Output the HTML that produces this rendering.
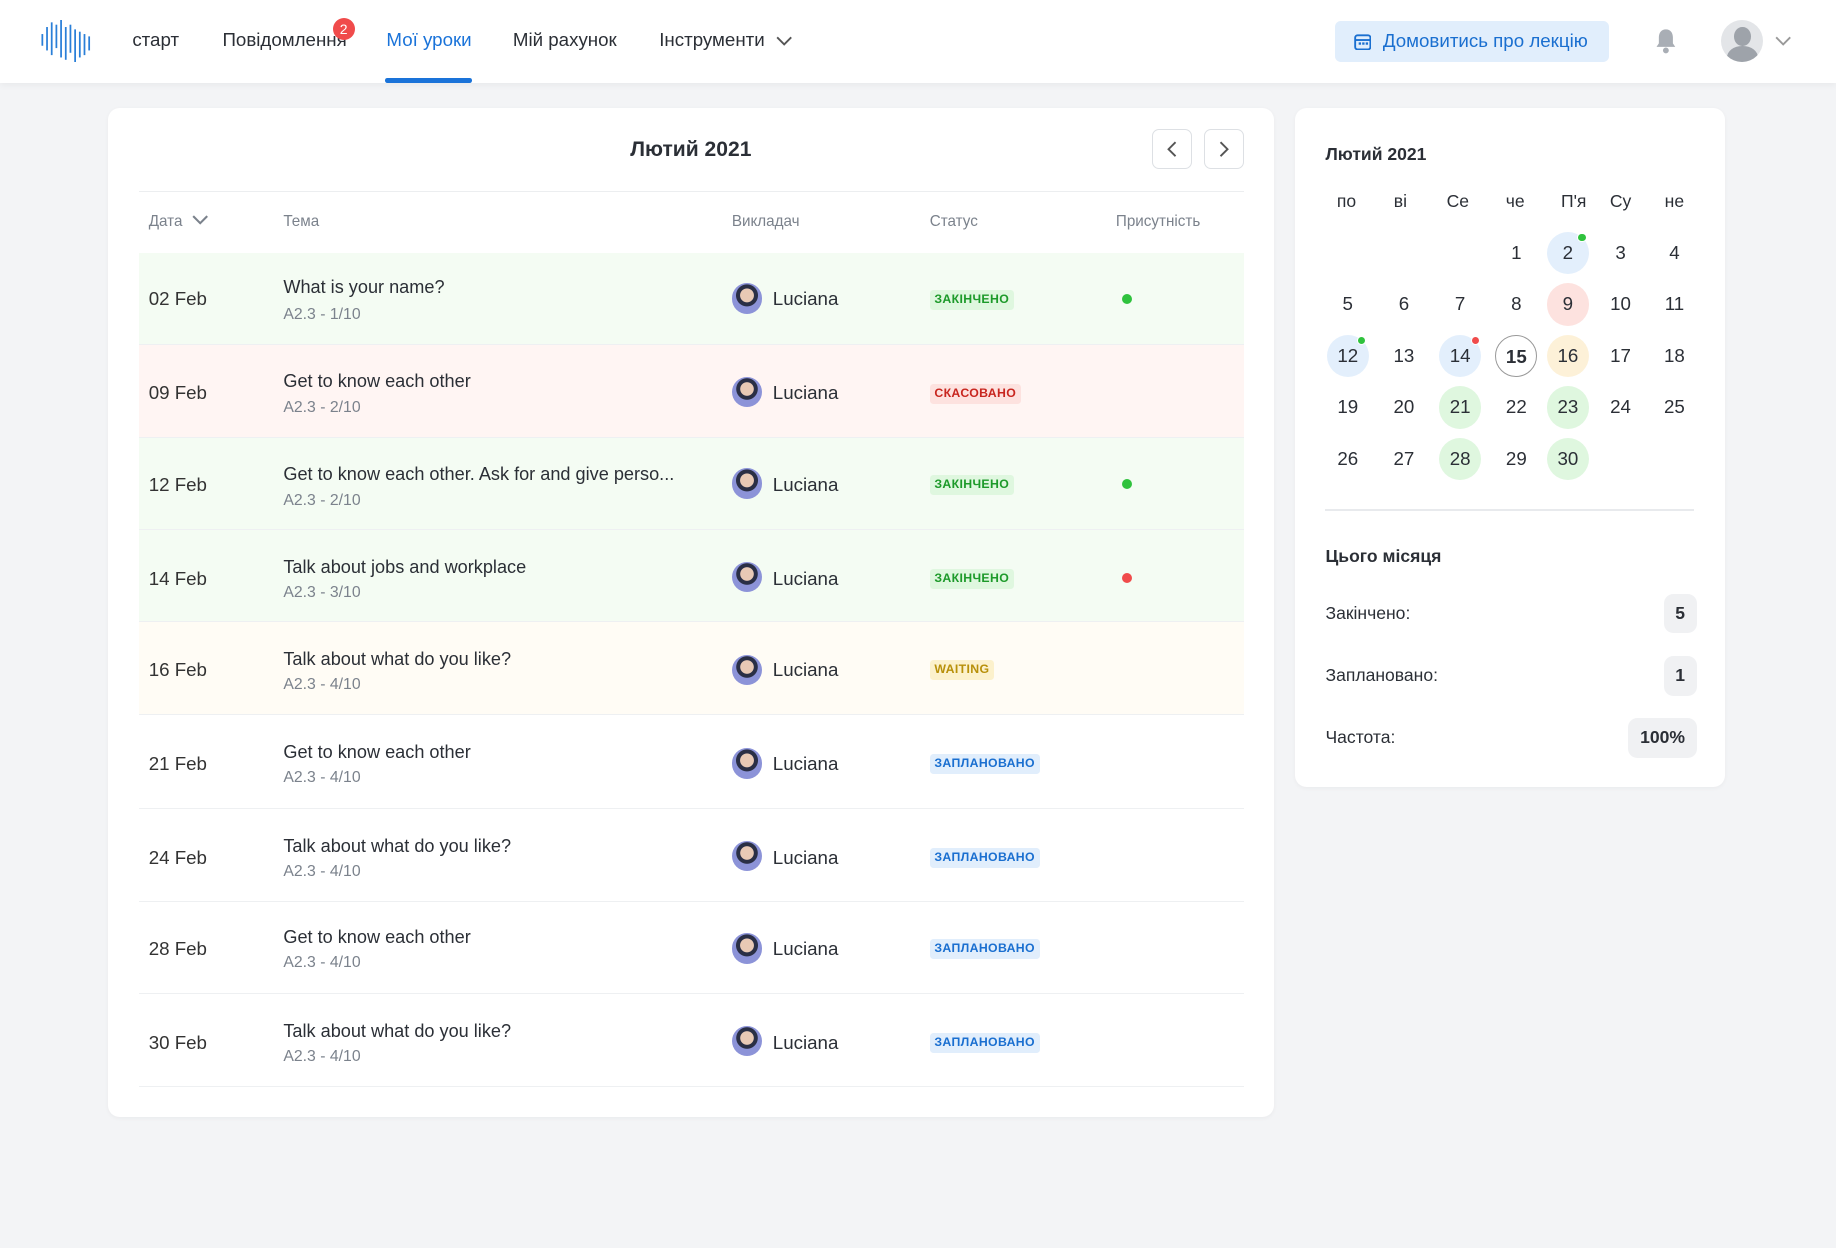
<!DOCTYPE html>
<html><head><meta charset="utf-8"><style>
*{box-sizing:border-box;margin:0;padding:0}
html,body{width:1836px;height:1248px;overflow:hidden;background:#f3f4f6}
body{font-family:"Liberation Sans",sans-serif;color:#2b2f36}
#w{zoom:1.17092;width:1568px;height:1066px;position:relative}
.a{position:absolute;white-space:nowrap}
.nav{position:absolute;left:0;top:0;width:1568px;height:71px;background:#fff;box-shadow:0 2px 6px rgba(0,0,0,.05)}
.ni{position:absolute;top:25px;font-size:16px;color:#2b2f36}
.card{position:absolute;background:#fff;border-radius:10px;box-shadow:0 1px 4px rgba(0,0,0,.04)}
.row{position:absolute;left:119px;width:943px;border-bottom:1px solid #eef0f2}
.hd{position:absolute;top:182px;font-size:13px;color:#7b828c}
.dt{position:absolute;left:8px;font-size:16px;color:#333}
.t1{position:absolute;left:123px;font-size:15.5px;color:#2b2f36}
.t2{position:absolute;left:123px;font-size:13.5px;color:#7b828c}
.av{position:absolute;left:506px;width:26px;height:26px;border-radius:50%;background:radial-gradient(circle at 50% 40%,#e8c9b5 0 28%,#2a2f45 30% 45%,#8c93d8 47%)}
.lu{position:absolute;left:541px;font-size:16px;color:#2b2f36}
.bd{position:absolute;left:675px;height:17px;line-height:17px;padding:0 4px;border-radius:3px;font-size:10.5px;font-weight:bold;letter-spacing:.3px}
.g{background:#dff7df;color:#1d9a2a}.r{background:#fde2df;color:#c8261f}.y{background:#fcf1cc;color:#b8900a}.b{background:#e1eefc;color:#1a6fd0}
.dot{position:absolute;left:839px;width:9px;height:9px;border-radius:50%}
.cd{position:absolute;width:36px;height:36px;margin-left:-18px;margin-top:-18px;border-radius:50%;text-align:center;line-height:36px;font-size:16px;color:#2b2f36}
.wk{position:absolute;top:163px;font-size:15px;color:#2b2f36;transform:translateX(-50%)}
.sl{position:absolute;left:1132px;font-size:15px;color:#2b2f36}
.sv{position:absolute;right:119px;height:34px;line-height:34px;padding:0 10px;background:#f0f1f3;border-radius:8px;font-weight:bold;font-size:15px}
</style></head><body><div id="w">
<div class="nav">
<svg class="a" style="left:34px;top:17px" width="46" height="36" viewBox="0 0 46 36"><g stroke="#2a7fd8" stroke-width="1.5"><line x1="2" y1="12" x2="2" y2="22"/><line x1="6" y1="6" x2="6" y2="26"/><line x1="10" y1="2" x2="10" y2="30"/><line x1="14" y1="4" x2="14" y2="24"/><line x1="18" y1="0" x2="18" y2="32"/><line x1="22" y1="6" x2="22" y2="34"/><line x1="26" y1="4" x2="26" y2="28"/><line x1="30" y1="8" x2="30" y2="36"/><line x1="34" y1="10" x2="34" y2="32"/><line x1="38" y1="12" x2="38" y2="30"/><line x1="42" y1="14" x2="42" y2="26"/></g></svg>
<div class="ni" style="left:113px">старт</div>
<div class="ni" style="left:190px">Повідомлення</div>
<div class="a" style="left:284px;top:15px;width:19px;height:19px;border-radius:50%;background:#f04b4b;color:#fff;font-size:12px;text-align:center;line-height:19px">2</div>
<div class="ni" style="left:330px;color:#1a73d9">Мої уроки</div>
<div class="a" style="left:329px;top:67px;width:74px;height:4px;background:#1a73d9;border-radius:2px"></div>
<div class="ni" style="left:438px">Мій рахунок</div>
<div class="ni" style="left:563px">Інструменти</div>
<svg class="a" style="left:663px;top:30px" width="14" height="10"><path d="M1 2l6 6 6-6" stroke="#555" stroke-width="1.6" fill="none"/></svg>
<div class="a" style="left:1140px;top:18px;width:234px;height:35px;background:#e1eefc;border-radius:5px;color:#1a6fd0;font-size:16px;line-height:35px;padding-left:41px">Домовитись про лекцію</div>
<svg class="a" style="left:1156px;top:28px" width="15" height="15"><rect x="1" y="2" width="13" height="12" rx="2" stroke="#1a6fd0" stroke-width="1.6" fill="none"/><line x1="1" y1="6" x2="14" y2="6" stroke="#1a6fd0" stroke-width="1.6"/><rect x="4" y="8" width="2" height="2" fill="#1a6fd0"/><rect x="7" y="8" width="2" height="2" fill="#1a6fd0"/><rect x="10" y="8" width="2" height="2" fill="#1a6fd0"/></svg>
<svg class="a" style="left:1412px;top:23px" width="22" height="24"><path d="M11 2c-4 0-6 3-6 7v5l-2 3h16l-2-3V9c0-4-2-7-6-7z" fill="#a9aeb5"/><circle cx="11" cy="20" r="2.5" fill="#a9aeb5"/></svg>
<div class="a" style="left:1470px;top:17px;width:36px;height:36px;border-radius:50%;background:#e3e5e8;overflow:hidden"><div class="a" style="left:11px;top:6px;width:14px;height:16px;border-radius:50%;background:#9ea3aa"></div><div class="a" style="left:5px;top:22px;width:26px;height:20px;border-radius:50%;background:#9ea3aa"></div></div>
<svg class="a" style="left:1516px;top:30px" width="14" height="10"><path d="M1 2l6 6 6-6" stroke="#999" stroke-width="1.6" fill="none"/></svg>
</div>

<div class="card" style="left:92px;top:92px;width:996px;height:862px"></div>
<div class="a" style="left:490px;top:118px;width:200px;text-align:center;font-weight:bold;font-size:18px">Лютий 2021</div>
<div class="a" style="left:984px;top:110px;width:34px;height:34px;border:1px solid #dde0e4;border-radius:6px"></div>
<div class="a" style="left:1028px;top:110px;width:34px;height:34px;border:1px solid #dde0e4;border-radius:6px"></div>
<svg class="a" style="left:995px;top:120px" width="12" height="14"><path d="M9 1L3 7l6 6" stroke="#555" stroke-width="1.6" fill="none"/></svg>
<svg class="a" style="left:1039px;top:120px" width="12" height="14"><path d="M3 1l6 6-6 6" stroke="#555" stroke-width="1.6" fill="none"/></svg>
<div class="a" style="left:119px;top:163px;width:943px;height:1px;background:#eceef0"></div>
<div class="hd" style="left:127px">Дата</div>
<svg class="a" style="left:164px;top:184px" width="14" height="10"><path d="M1 1l6 6 6-6" stroke="#7b828c" stroke-width="1.8" fill="none"/></svg>
<div class="hd" style="left:242px">Тема</div>
<div class="hd" style="left:625px">Викладач</div>
<div class="hd" style="left:794px">Статус</div>
<div class="hd" style="left:953px">Присутність</div>

<div class="row" style="top:216px;height:79px;background:#f4fcf3"><div class="dt" style="top:30px">02 Feb</div><div class="t1" style="top:21px">What is your name?</div><div class="t2" style="top:45px">A2.3 - 1/10</div><div class="av" style="top:26px"></div><div class="lu" style="top:30px">Luciana</div><div class="bd g" style="top:32px">ЗАКІНЧЕНО</div><div class="dot" style="top:35px;background:#2fc23d"></div></div>
<div class="row" style="top:295px;height:79px;background:#fff5f3"><div class="dt" style="top:31px">09 Feb</div><div class="t1" style="top:22px">Get to know each other</div><div class="t2" style="top:46px">A2.3 - 2/10</div><div class="av" style="top:27px"></div><div class="lu" style="top:31px">Luciana</div><div class="bd r" style="top:33px">СКАСОВАНО</div></div>
<div class="row" style="top:374px;height:79px;background:#f4fcf3"><div class="dt" style="top:31px">12 Feb</div><div class="t1" style="top:22px">Get to know each other. Ask for and give perso...</div><div class="t2" style="top:46px">A2.3 - 2/10</div><div class="av" style="top:26px"></div><div class="lu" style="top:31px">Luciana</div><div class="bd g" style="top:32px">ЗАКІНЧЕНО</div><div class="dot" style="top:35px;background:#2fc23d"></div></div>
<div class="row" style="top:453px;height:78px;background:#f4fcf3"><div class="dt" style="top:32px">14 Feb</div><div class="t1" style="top:23px">Talk about jobs and workplace</div><div class="t2" style="top:46px">A2.3 - 3/10</div><div class="av" style="top:27px"></div><div class="lu" style="top:32px">Luciana</div><div class="bd g" style="top:33px">ЗАКІНЧЕНО</div><div class="dot" style="top:36px;background:#f04b4b"></div></div>
<div class="row" style="top:531px;height:80px;background:#fffcf5"><div class="dt" style="top:32px">16 Feb</div><div class="t1" style="top:23px">Talk about what do you like?</div><div class="t2" style="top:46px">A2.3 - 4/10</div><div class="av" style="top:28px"></div><div class="lu" style="top:32px">Luciana</div><div class="bd y" style="top:33px">WAITING</div></div>
<div class="row" style="top:611px;height:80px"><div class="dt" style="top:32px">21 Feb</div><div class="t1" style="top:23px">Get to know each other</div><div class="t2" style="top:46px">A2.3 - 4/10</div><div class="av" style="top:28px"></div><div class="lu" style="top:32px">Luciana</div><div class="bd b" style="top:33px">ЗАПЛАНОВАНО</div></div>
<div class="row" style="top:691px;height:79px"><div class="dt" style="top:32px">24 Feb</div><div class="t1" style="top:23px">Talk about what do you like?</div><div class="t2" style="top:46px">A2.3 - 4/10</div><div class="av" style="top:27px"></div><div class="lu" style="top:32px">Luciana</div><div class="bd b" style="top:33px">ЗАПЛАНОВАНО</div></div>
<div class="row" style="top:770px;height:79px"><div class="dt" style="top:31px">28 Feb</div><div class="t1" style="top:22px">Get to know each other</div><div class="t2" style="top:45px">A2.3 - 4/10</div><div class="av" style="top:27px"></div><div class="lu" style="top:31px">Luciana</div><div class="bd b" style="top:32px">ЗАПЛАНОВАНО</div></div>
<div class="row" style="top:849px;height:79px"><div class="dt" style="top:32px">30 Feb</div><div class="t1" style="top:23px">Talk about what do you like?</div><div class="t2" style="top:46px">A2.3 - 4/10</div><div class="av" style="top:27px"></div><div class="lu" style="top:32px">Luciana</div><div class="bd b" style="top:33px">ЗАПЛАНОВАНО</div></div>

<div class="card" style="left:1106px;top:92px;width:367px;height:580px"></div>
<div class="a" style="left:1132px;top:123px;font-weight:bold;font-size:15px">Лютий 2021</div>
<div class="wk" style="left:1150px">по</div><div class="wk" style="left:1196px">ві</div><div class="wk" style="left:1245px">Се</div><div class="wk" style="left:1294px">че</div><div class="wk" style="left:1344px">П'я</div><div class="wk" style="left:1384px">Су</div><div class="wk" style="left:1430px">не</div>

<div class="cd" style="left:1295px;top:216px">1</div>
<div class="cd" style="left:1339px;top:216px;background:#e3effc">2</div><div class="a" style="left:1347px;top:199px;width:8px;height:8px;border-radius:50%;background:#2fc23d;border:1px solid #fff"></div>
<div class="cd" style="left:1384px;top:216px">3</div><div class="cd" style="left:1430px;top:216px">4</div>
<div class="cd" style="left:1151px;top:260px">5</div><div class="cd" style="left:1199px;top:260px">6</div><div class="cd" style="left:1247px;top:260px">7</div><div class="cd" style="left:1295px;top:260px">8</div>
<div class="cd" style="left:1339px;top:260px;background:#fde2df">9</div><div class="cd" style="left:1384px;top:260px">10</div><div class="cd" style="left:1430px;top:260px">11</div>
<div class="cd" style="left:1151px;top:304px;background:#e3effc">12</div><div class="a" style="left:1159px;top:287px;width:8px;height:8px;border-radius:50%;background:#2fc23d;border:1px solid #fff"></div>
<div class="cd" style="left:1199px;top:304px">13</div>
<div class="cd" style="left:1247px;top:304px;background:#e3effc">14</div><div class="a" style="left:1256px;top:287px;width:8px;height:8px;border-radius:50%;background:#f04b4b;border:1px solid #fff"></div>
<div class="cd" style="left:1295px;top:304px;border:1px solid #999;font-weight:bold">15</div>
<div class="cd" style="left:1339px;top:304px;background:#fdf1d8">16</div><div class="cd" style="left:1384px;top:304px">17</div><div class="cd" style="left:1430px;top:304px">18</div>
<div class="cd" style="left:1151px;top:348px">19</div><div class="cd" style="left:1199px;top:348px">20</div><div class="cd" style="left:1247px;top:348px;background:#dff7df">21</div><div class="cd" style="left:1295px;top:348px">22</div><div class="cd" style="left:1339px;top:348px;background:#dff7df">23</div><div class="cd" style="left:1384px;top:348px">24</div><div class="cd" style="left:1430px;top:348px">25</div>
<div class="cd" style="left:1151px;top:392px">26</div><div class="cd" style="left:1199px;top:392px">27</div><div class="cd" style="left:1247px;top:392px;background:#dff7df">28</div><div class="cd" style="left:1295px;top:392px">29</div><div class="cd" style="left:1339px;top:392px;background:#dff7df">30</div>
<div class="a" style="left:1132px;top:435px;width:315px;height:1px;background:#e8eaed"></div>
<div class="a" style="left:1132px;top:466px;font-weight:bold;font-size:15px">Цього місяця</div>
<div class="sl" style="top:515px">Закінчено:</div><div class="sv" style="top:507px">5</div>
<div class="sl" style="top:568px">Заплановано:</div><div class="sv" style="top:560px">1</div>
<div class="sl" style="top:621px">Частота:</div><div class="sv" style="top:613px">100%</div>
</div></body></html>
